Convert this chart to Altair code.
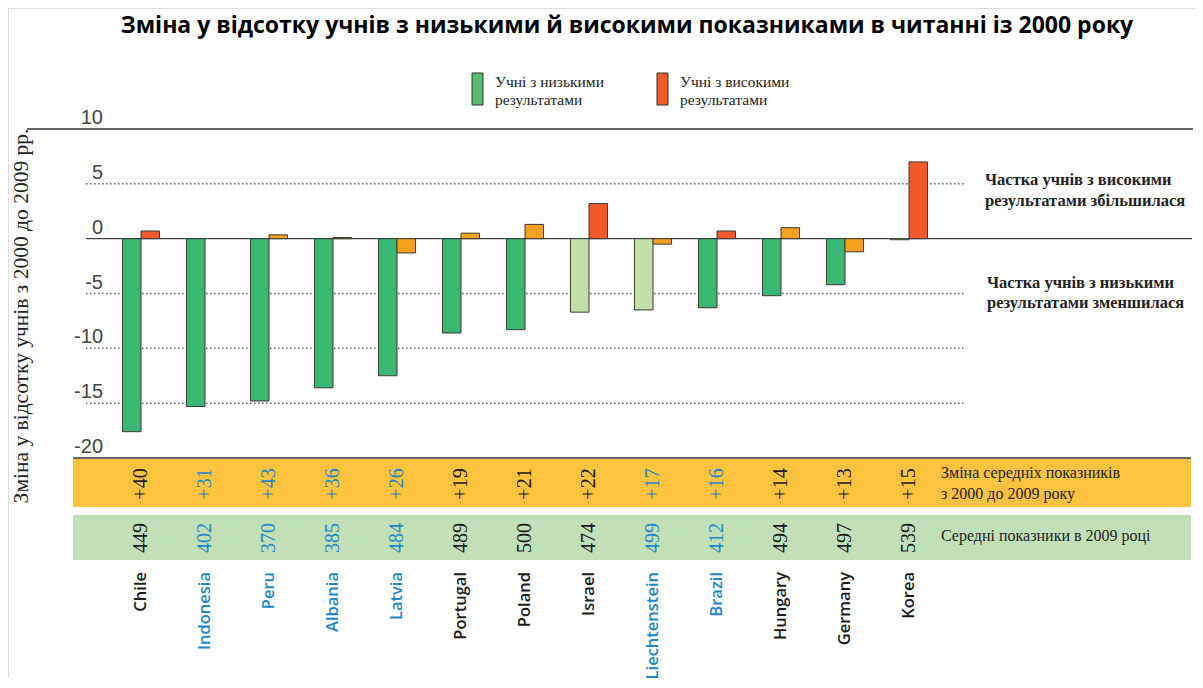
import altair as alt
import pandas as pd

# ---------------- data ----------------
countries = ["Chile", "Indonesia", "Peru", "Albania", "Latvia", "Portugal", "Poland",
             "Israel", "Liechtenstein", "Brazil", "Hungary", "Germany", "Korea"]
group = ["OECD", "partner", "partner", "partner", "partner", "OECD", "OECD",
         "OECD", "partner", "partner", "OECD", "OECD", "OECD"]
low_change = [-17.6, -15.3, -14.8, -13.6, -12.5, -8.6, -8.3, -6.7, -6.5, -6.3, -5.2, -4.2, -0.1]
low_sig = [True, True, True, True, True, True, True, False, False, True, True, True, False]
high_change = [0.7, None, 0.35, 0.1, -1.3, 0.5, 1.3, 3.2, -0.5, 0.7, 1.0, -1.2, 7.0]
high_sig = [True, False, False, False, False, False, False, True, False, True, False, False, True]
score_change = ["+40", "+31", "+43", "+36", "+26", "+19", "+21", "+22", "+17", "+16", "+14", "+13", "+15"]
mean_2009 = [449, 402, 370, 385, 484, 489, 500, 474, 499, 412, 494, 497, 539]
y_ticks = [10, 5, 0, -5, -10, -15, -20]
grid_vals = [5, -5, -10, -15]

title_text = "Зміна у відсотку учнів з низькими й високими показниками в читанні із 2000 року"
y_title = "Зміна у відсотку учнів з 2000 до 2009 рр."
legend_low = ["Учні з низькими", "результатами"]
legend_high = ["Учні з високими", "результатами"]
note_high = ["Частка учнів з високими", "результатами збільшилася"]
note_low = ["Частка учнів з низькими", "результатами зменшилася"]
row1_label = ["Зміна середніх показників", "з 2000 до 2009 року"]
row2_label = ["Середні показники в 2009 році"]

# ---------------- tables ----------------
rows = []
for i, c in enumerate(countries):
    rows.append({"country": c, "series": "low", "value": low_change[i],
                 "cat": "low_sig" if low_sig[i] else "low_ns"})
    rows.append({"country": c, "series": "high", "value": high_change[i],
                 "cat": "high_sig" if high_sig[i] else "high_ns"})
bars_df = pd.DataFrame(rows)
bars_df = bars_df[bars_df["value"].notna()]

cdf = pd.DataFrame({"country": countries, "group": group,
                    "score_change": score_change, "mean": [str(m) for m in mean_2009]})

SERIF = "Liberation Serif"
SANS = "Open Sans"

x_scale = alt.Scale(domain=countries, range=[101, 933], paddingInner=0.42, paddingOuter=0.21)
y_scale = alt.Scale(domain=[-20, 10], range=[450, 121], nice=False, zero=False)
X = alt.X("country:N", sort=countries, scale=x_scale, axis=None)

txt_color = alt.condition(alt.datum.group == "OECD", alt.value("#1a1a1a"), alt.value("#1f86c8"))

layers = []

# bands under the plot
layers.append(alt.Chart(pd.DataFrame({"k": [0]})).mark_rect(color="#fdc33e").encode(
    x=alt.value(65), x2=alt.value(1183), y=alt.value(450), y2=alt.value(499)))
layers.append(alt.Chart(pd.DataFrame({"k": [0]})).mark_rect(color="#c2e0b8").encode(
    x=alt.value(65), x2=alt.value(1183), y=alt.value(507), y2=alt.value(552)))

# gridlines
layers.append(alt.Chart(pd.DataFrame({"v": grid_vals})).mark_rule(
    color="#666666", strokeDash=[1.5, 2.5], strokeWidth=1.5).encode(
    y=alt.Y("v:Q", scale=y_scale, axis=None), x=alt.value(78), x2=alt.value(958)))

# top line (10), zero line, bottom line (-20)
layers.append(alt.Chart(pd.DataFrame({"v": [10]})).mark_rule(color="#333333", strokeWidth=1.5).encode(
    y=alt.Y("v:Q", scale=y_scale, axis=None), x=alt.value(19), x2=alt.value(1185)))
layers.append(alt.Chart(pd.DataFrame({"v": [0]})).mark_rule(color="#444444", strokeWidth=1.2).encode(
    y=alt.Y("v:Q", scale=y_scale, axis=None), x=alt.value(78), x2=alt.value(1184)))
layers.append(alt.Chart(pd.DataFrame({"v": [-20]})).mark_rule(color="#666666", strokeWidth=2).encode(
    y=alt.Y("v:Q", scale=y_scale, axis=None), x=alt.value(65), x2=alt.value(1183)))

# bars
layers.append(alt.Chart(bars_df).mark_bar(stroke="#3a3a3a", strokeWidth=1).encode(
    x=X,
    xOffset=alt.XOffset("series:N", sort=["low", "high"],
                        scale=alt.Scale(paddingInner=0, paddingOuter=0)),
    y=alt.Y("value:Q", scale=y_scale, axis=None),
    y2=alt.datum(0),
    color=alt.Color("cat:N", scale=alt.Scale(
        domain=["low_sig", "low_ns", "high_sig", "high_ns"],
        range=["#3bb775", "#c2dfa8", "#ef5a28", "#f6a11d"]), legend=None),
))

# y tick labels
layers.append(alt.Chart(pd.DataFrame({"v": y_ticks, "t": [str(v) for v in y_ticks]})).mark_text(
    align="right", baseline="alphabetic", dy=-5, font="Liberation Sans", fontSize=20,
    color="#444444").encode(
    y=alt.Y("v:Q", scale=y_scale, axis=None), x=alt.value(95), text="t:N"))

# y title
layers.append(alt.Chart(pd.DataFrame({"t": [y_title]})).mark_text(
    angle=270, align="center", baseline="middle", font=SERIF, fontSize=21.5, color="#222222").encode(
    x=alt.value(14), y=alt.value(308), text="t:N"))

# band numbers
layers.append(alt.Chart(cdf).mark_text(angle=270, align="center", baseline="middle",
                                       font=SERIF, fontSize=20).encode(
    x=X, y=alt.value(476), text="score_change:N", color=txt_color))
layers.append(alt.Chart(cdf).mark_text(angle=270, align="center", baseline="middle",
                                       font=SERIF, fontSize=20).encode(
    x=X, y=alt.value(530), text="mean:N", color=txt_color))

# country labels
layers.append(alt.Chart(cdf).mark_text(angle=270, align="right", baseline="middle",
                                       font=SANS, fontSize=16.5, fontWeight=600).encode(
    x=X, y=alt.value(564), text="country:N", color=txt_color))

# band row labels
for txt, yy in [(row1_label[0], 465), (row1_label[1], 486), (row2_label[0], 528)]:
    layers.append(alt.Chart(pd.DataFrame({"t": [txt]})).mark_text(
        align="left", baseline="middle", font=SERIF, fontSize=16, color="#222222").encode(
        x=alt.value(933), y=alt.value(yy), text="t:N"))

# right notes
for txt, xx, yy in [(note_high[0], 977, 172), (note_high[1], 977, 193),
                    (note_low[0], 979, 275), (note_low[1], 979, 295)]:
    layers.append(alt.Chart(pd.DataFrame({"t": [txt]})).mark_text(
        align="left", baseline="middle", font=SERIF, fontSize=16.5, fontWeight="bold",
        color="#222222").encode(x=alt.value(xx), y=alt.value(yy), text="t:N"))

# legend
for x0, fill, lines in [(464, "#5dbb6f", legend_low), (649, "#f05a28", legend_high)]:
    layers.append(alt.Chart(pd.DataFrame({"k": [0]})).mark_rect(
        color=fill, stroke="#333333", strokeWidth=1).encode(
        x=alt.value(x0), x2=alt.value(x0 + 11), y=alt.value(65), y2=alt.value(97)))
    for j, ln in enumerate(lines):
        layers.append(alt.Chart(pd.DataFrame({"t": [ln]})).mark_text(
            align="left", baseline="alphabetic", font=SERIF, fontSize=15.5,
            color="#222222").encode(x=alt.value(x0 + 23), y=alt.value(78.5 + 18.5 * j), text="t:N"))

# title
layers.append(alt.Chart(pd.DataFrame({"t": [title_text]})).mark_text(
    align="center", baseline="alphabetic", font=SANS, fontSize=23, fontWeight="bold",
    color="#000000").encode(x=alt.value(619), y=alt.value(25), text="t:N"))

chart = alt.layer(*layers).properties(
    width=1187, height=670, autosize="none", padding=0
).configure_view(stroke=None).configure(background="white")

chart.save("out.html", embed_options={"renderer": "svg", "actions": False})
